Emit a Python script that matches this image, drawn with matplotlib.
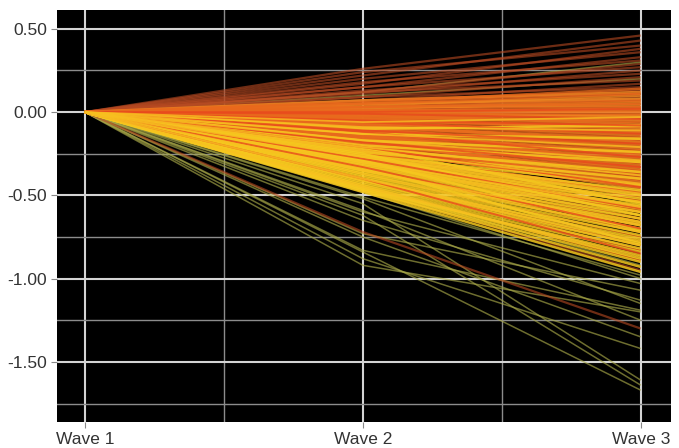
import numpy as np
import matplotlib.pyplot as plt
from matplotlib.ticker import MultipleLocator, FormatStrFormatter

plt.rcParams['font.family'] = ['Liberation Sans', 'DejaVu Sans']
plt.rcParams['axes.unicode_minus'] = False

waves = ["Wave 1", "Wave 2", "Wave 3"]

# each line starts at 0 on Wave 1; values at Wave 2 and Wave 3
olive_w2 = [-0.84, -0.62, -0.55, -0.88, -0.83, -0.65, -0.73, -0.60, -0.51, -0.92,
            -0.75, -0.59, -0.52, -0.48, -0.45, 0.12, 0.10, 0.02]
olive_w3 = [-1.67, -1.64, -1.61, -1.42, -1.19, -1.13, -1.07, -1.03, -0.98, -1.20,
            -1.35, -1.25, -1.15, -1.00, -0.92, 0.30, 0.20, 0.08]

brown_w2 = [0.26, 0.22, 0.24, 0.17, 0.20, 0.15, 0.18, 0.12, 0.15, 0.11,
            0.13, 0.09, 0.12, 0.07, 0.09, 0.05, 0.07, 0.03, 0.05, 0.01,
            0.03, -0.01, 0.00, -0.04, -0.02, -0.07, -0.08, -0.14, -0.16, -0.26,
            -0.30, -0.41, -0.46, -0.72]
brown_w3 = [0.46, 0.43, 0.40, 0.38, 0.36, 0.33, 0.31, 0.29, 0.27, 0.25,
            0.23, 0.21, 0.19, 0.17, 0.15, 0.13, 0.11, 0.09, 0.07, 0.05,
            0.03, 0.01, -0.02, -0.05, -0.08, -0.12, -0.18, -0.25, -0.35, -0.48,
            -0.62, -0.78, -0.95, -1.30]

orange_w2 = [0.07, 0.04, 0.05, 0.02, 0.03, 0.00, 0.01, -0.02, 0.00, -0.03,
             -0.02, -0.05, -0.04, -0.07, -0.06, -0.09, -0.08, -0.11, -0.10, -0.13,
             -0.12, -0.15, -0.14, -0.17, -0.16, -0.19, -0.18, -0.21, -0.20, -0.23,
             -0.22, -0.25, -0.24, -0.28, -0.27, -0.31, -0.30, -0.35, -0.34, -0.40]
orange_w3 = [0.12, 0.10, 0.08, 0.06, 0.04, 0.02, 0.00, -0.02, -0.03, -0.05,
             -0.07, -0.09, -0.10, -0.12, -0.14, -0.16, -0.18, -0.20, -0.22, -0.24,
             -0.26, -0.28, -0.30, -0.32, -0.34, -0.36, -0.38, -0.40, -0.42, -0.44,
             -0.46, -0.48, -0.51, -0.54, -0.57, -0.60, -0.64, -0.68, -0.72, -0.80]

dark_orange_w2 = [0.06, 0.05, 0.03, 0.03, 0.01, 0.01, -0.01, -0.02, -0.03, -0.04,
                  -0.05, -0.06, -0.07, -0.08, -0.09, -0.10, -0.11, -0.12, -0.13, -0.14,
                  -0.15, -0.16, -0.17, -0.18, -0.19, -0.20, -0.21, -0.22, -0.24, -0.26,
                  -0.29, -0.32, -0.37, -0.41, -0.44]
dark_orange_w3 = [0.14, 0.11, 0.07, 0.05, 0.03, 0.01, -0.01, -0.04, -0.06, -0.08,
                  -0.11, -0.13, -0.15, -0.17, -0.19, -0.21, -0.23, -0.25, -0.27, -0.29,
                  -0.31, -0.33, -0.35, -0.37, -0.39, -0.41, -0.43, -0.45, -0.49, -0.53,
                  -0.59, -0.66, -0.75, -0.83, -0.89]

yellow_w2 = [-0.10, -0.13, -0.17, -0.20, -0.22, -0.24, -0.26, -0.27, -0.28, -0.29,
             -0.30, -0.31, -0.32, -0.33, -0.34, -0.35, -0.36, -0.37, -0.38, -0.39,
             -0.40, -0.41, -0.42, -0.43, -0.44, -0.45, -0.46, -0.46, -0.47, -0.47,
             -0.48, -0.25, -0.29, -0.33, -0.21]
yellow_w3 = [-0.08, -0.16, -0.24, -0.30, -0.36, -0.40, -0.44, -0.47, -0.50, -0.52,
             -0.54, -0.56, -0.58, -0.60, -0.62, -0.64, -0.66, -0.68, -0.70, -0.72,
             -0.74, -0.76, -0.78, -0.80, -0.82, -0.84, -0.86, -0.88, -0.90, -0.93,
             -0.96, -0.62, -0.71, -0.79, -0.55]

red_w2 = [0.00, -0.01, -0.05, -0.06, -0.11, -0.12, -0.18, -0.21, -0.28, -0.33, -0.40]
red_w3 = [0.02, -0.04, -0.08, -0.13, -0.19, -0.27, -0.33, -0.45, -0.58, -0.70, -0.85]

gold_w2 = [-0.06, -0.09, -0.13, -0.17, -0.21, -0.23, -0.27, -0.30, -0.35, -0.40, -0.45]
gold_w3 = [-0.03, -0.11, -0.21, -0.29, -0.38, -0.43, -0.49, -0.57, -0.67, -0.77, -0.87]

groups = [
    (olive_w2, olive_w3, "#a8a848", 0.65, 1.1),
    (brown_w2, brown_w3, "#b84a22", 0.6, 1.6),
    (orange_w2, orange_w3, "#f08420", 0.85, 2.0),
    (dark_orange_w2, dark_orange_w3, "#e8681c", 0.8, 1.8),
    (yellow_w2, yellow_w3, "#f6c81e", 0.85, 1.8),
    (red_w2, red_w3, "#e84a1c", 0.8, 1.4),
    (gold_w2, gold_w3, "#f8c020", 0.8, 1.3),
]

fig = plt.figure(figsize=(6.79, 4.48), dpi=100)
ax = fig.add_axes([0.084, 0.058, 0.904, 0.920])
ax.set_facecolor("black")

xs = np.arange(len(waves))
for w2, w3, col, a, lw in groups:
    for v2, v3 in zip(w2, w3):
        ax.plot(xs, [0.0, v2, v3], color=col, alpha=a, lw=lw, solid_capstyle="butt")

ax.set_xlim(-0.1, 2.108)
ax.set_ylim(-1.861, 0.614)
ax.set_xticks(xs)
ax.set_xticklabels(waves)
ax.xaxis.set_minor_locator(MultipleLocator(0.5))
ax.yaxis.set_major_locator(MultipleLocator(0.5))
ax.yaxis.set_minor_locator(MultipleLocator(0.25))
ax.yaxis.set_major_formatter(FormatStrFormatter("%.2f"))

ax.set_axisbelow(True)
ax.grid(which="major", color="#d4d4d4", lw=1.5)
ax.grid(which="minor", color="#8c8c8c", lw=1.0)
ax.tick_params(which="major", length=4, color="#888888", labelsize=12.5,
               labelcolor="#333333", pad=3)
ax.tick_params(which="minor", length=0)
for s in ax.spines.values():
    s.set_visible(False)

fig.savefig("out.png", dpi=100)
